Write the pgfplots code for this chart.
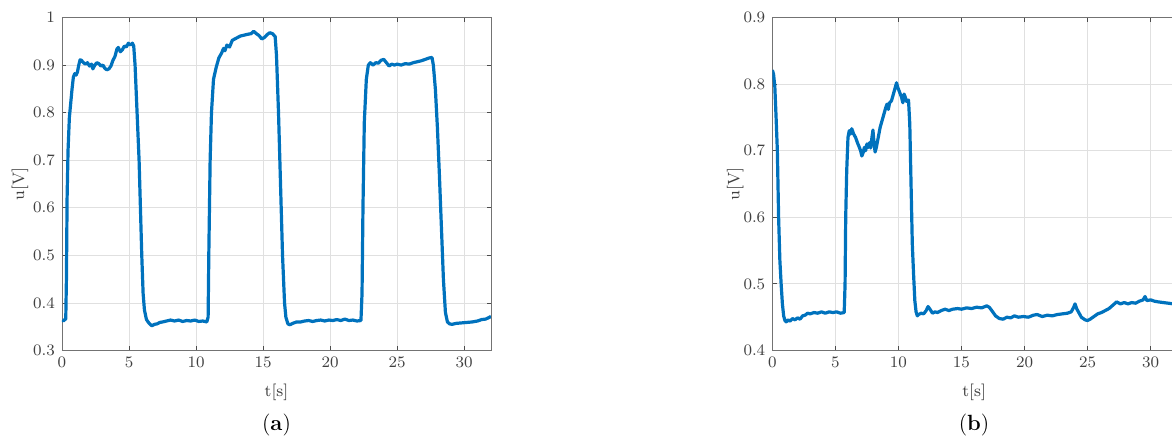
\documentclass[border=0pt]{standalone}
\usepackage{pgfplots}
\pgfplotsset{compat=1.18}
\definecolor{mblue}{RGB}{0,114,189}
\pgfplotsset{
  mstyle/.style={
    scale only axis,
    anchor=south west,
    height=166.5pt,
    xmin=0, xmax=32,
    xtick={0,5,10,15,20,25,30},
    tick align=inside,
    xtick pos=both, ytick pos=both,
    major tick length=2.2pt,
    grid=major,
    major grid style={draw=black!12, line width=0.4pt},
    axis line style={draw=black!55, line width=0.45pt},
    every tick/.style={draw=black!70, line width=0.4pt},
    tick label style={font=\fontsize{7.8}{9}\selectfont, text=black!75},
    label style={font=\fontsize{8.3}{10}\selectfont, text=black!75},
    xlabel={t[s]},
    ylabel={u[V]},
    xlabel style={at={(axis description cs:0.5,0)}, anchor=center, yshift=-20.75pt},
    yticklabel style={/pgf/number format/fixed},
    clip=true,
  }
}
\begin{document}
\begin{tikzpicture}
\useasboundingbox (0,0) rectangle (586pt,219pt);
\begin{axis}[mstyle,
  at={(31pt,43.75pt)}, width=214.5pt,
  ymin=0.3, ymax=1, ytick={0.3,0.4,0.5,0.6,0.7,0.8,0.9,1},
  ylabel style={at={(axis description cs:-0.098,0.5)}, anchor=center, rotate=0},
]
\addplot[mblue, line width=1.6pt, line join=round] coordinates {
(0,0.364) (0.1,0.362) (0.2,0.365) (0.28,0.366) (0.33,0.45) (0.38,0.62) (0.45,0.72)
(0.55,0.79) (0.65,0.82) (0.75,0.85) (0.85,0.875) (0.95,0.882) (1.05,0.879) (1.15,0.885)
(1.25,0.9) (1.35,0.911) (1.45,0.91) (1.6,0.905) (1.75,0.902) (1.9,0.905) (2.05,0.898)
(2.2,0.902) (2.3,0.892) (2.45,0.9) (2.6,0.905) (2.75,0.903) (2.9,0.898) (3.05,0.9)
(3.2,0.893) (3.35,0.89) (3.5,0.892) (3.65,0.898) (3.8,0.91) (3.95,0.918) (4.1,0.934)
(4.2,0.937) (4.35,0.928) (4.5,0.932) (4.65,0.94) (4.8,0.938) (4.95,0.946) (5.1,0.942)
(5.25,0.946) (5.35,0.94) (5.45,0.9) (5.6,0.8) (5.75,0.7) (5.85,0.6) (5.95,0.5)
(6.05,0.42) (6.15,0.385) (6.3,0.365) (6.5,0.357) (6.7,0.352) (6.9,0.355) (7.1,0.356)
(7.3,0.359) (7.5,0.36) (7.8,0.362) (8.1,0.364) (8.4,0.362) (8.7,0.364) (9.0,0.361)
(9.3,0.363) (9.6,0.362) (9.9,0.364) (10.2,0.361) (10.5,0.362) (10.8,0.36) (10.9,0.37)
(10.95,0.5) (11.05,0.7) (11.15,0.8) (11.3,0.87) (11.5,0.895) (11.7,0.915) (11.9,0.925)
(12.05,0.935) (12.15,0.93) (12.3,0.942) (12.5,0.938) (12.7,0.952) (12.9,0.955) (13.1,0.958)
(13.3,0.961) (13.6,0.963) (13.9,0.965) (14.1,0.966) (14.3,0.971) (14.5,0.966) (14.7,0.962)
(14.9,0.955) (15.1,0.958) (15.3,0.964) (15.5,0.968) (15.7,0.966) (15.9,0.96) (16.0,0.92)
(16.15,0.8) (16.3,0.65) (16.45,0.5) (16.6,0.4) (16.7,0.37) (16.85,0.356) (17.0,0.354)
(17.2,0.357) (17.5,0.36) (17.8,0.36) (18.1,0.362) (18.4,0.363) (18.7,0.361) (19.0,0.363)
(19.3,0.364) (19.6,0.362) (19.9,0.364) (20.2,0.363) (20.5,0.365) (20.8,0.363) (21.1,0.366)
(21.4,0.363) (21.7,0.364) (22.0,0.362) (22.3,0.363) (22.38,0.42) (22.45,0.6) (22.55,0.78)
(22.7,0.87) (22.85,0.9) (23.0,0.905) (23.2,0.9) (23.4,0.905) (23.6,0.904) (23.8,0.91)
(24.0,0.912) (24.2,0.905) (24.4,0.898) (24.6,0.902) (24.8,0.9) (25.0,0.902) (25.3,0.9)
(25.6,0.903) (25.9,0.902) (26.2,0.905) (26.5,0.907) (26.8,0.909) (27.1,0.912) (27.4,0.915)
(27.6,0.916) (27.7,0.9) (27.85,0.85) (28.0,0.77) (28.15,0.67) (28.3,0.56) (28.45,0.45)
(28.6,0.38) (28.75,0.36) (28.9,0.356) (29.1,0.355) (29.4,0.357) (29.8,0.358) (30.2,0.359)
(30.6,0.36) (31.0,0.362) (31.3,0.365) (31.6,0.366) (31.9,0.37) (32,0.372)
};
\end{axis}
\node[font=\fontsize{11}{13}\selectfont] at (138.25pt,6.5pt) {(\textbf{a})};
\begin{axis}[mstyle,
  at={(386.15pt,43.75pt)}, width=201.8pt,
  ymin=0.4, ymax=0.9, ytick={0.4,0.5,0.6,0.7,0.8,0.9},
  ylabel style={at={(axis description cs:-0.092,0.5)}, anchor=center, rotate=0},
]
\addplot[mblue, line width=1.6pt, line join=round] coordinates {
(0,0.821) (0.1,0.815) (0.2,0.796) (0.3,0.75) (0.4,0.7) (0.5,0.6) (0.6,0.535) (0.7,0.5)
(0.8,0.47) (0.9,0.452) (1.0,0.445) (1.1,0.443) (1.25,0.446) (1.4,0.444) (1.6,0.448)
(1.8,0.446) (2.0,0.449) (2.2,0.447) (2.4,0.452) (2.6,0.453) (2.8,0.456) (3.0,0.455)
(3.3,0.457) (3.6,0.456) (3.9,0.458) (4.2,0.456) (4.5,0.458) (4.8,0.457) (5.1,0.458)
(5.4,0.456) (5.7,0.457) (5.77,0.5) (5.82,0.6) (5.9,0.67) (6.0,0.72) (6.1,0.73)
(6.2,0.725) (6.3,0.733) (6.45,0.725) (6.6,0.72) (6.75,0.712) (6.9,0.705) (7.0,0.7)
(7.1,0.692) (7.2,0.697) (7.3,0.705) (7.4,0.7) (7.5,0.71) (7.6,0.705) (7.7,0.712)
(7.8,0.704) (7.9,0.72) (7.98,0.731) (8.05,0.715) (8.15,0.698) (8.25,0.705) (8.4,0.72)
(8.55,0.735) (8.7,0.745) (8.85,0.755) (9.0,0.765) (9.1,0.77) (9.2,0.762) (9.3,0.772)
(9.45,0.775) (9.6,0.785) (9.75,0.795) (9.85,0.802) (9.95,0.795) (10.05,0.79) (10.15,0.785)
(10.25,0.78) (10.35,0.772) (10.45,0.785) (10.55,0.78) (10.65,0.774) (10.8,0.776) (10.9,0.74)
(11.0,0.65) (11.1,0.56) (11.2,0.515) (11.3,0.475) (11.4,0.458) (11.5,0.452) (11.6,0.454)
(11.8,0.456) (12.0,0.455) (12.2,0.46) (12.35,0.466) (12.5,0.462) (12.7,0.456) (12.9,0.458)
(13.1,0.457) (13.4,0.46) (13.7,0.462) (14.0,0.46) (14.3,0.462) (14.7,0.463) (15.0,0.462)
(15.4,0.464) (15.8,0.463) (16.2,0.465) (16.6,0.464) (17.0,0.467) (17.2,0.465) (17.4,0.46)
(17.7,0.452) (18.0,0.448) (18.3,0.447) (18.6,0.45) (18.9,0.449) (19.2,0.452) (19.5,0.45)
(19.9,0.451) (20.3,0.45) (20.7,0.453) (21.0,0.454) (21.4,0.451) (21.8,0.453) (22.2,0.452)
(22.6,0.454) (23.0,0.455) (23.4,0.456) (23.7,0.458) (23.9,0.465) (24.0,0.47) (24.15,0.462)
(24.3,0.457) (24.5,0.45) (24.8,0.446) (25.0,0.445) (25.2,0.447) (25.5,0.451) (25.8,0.455)
(26.1,0.457) (26.4,0.46) (26.7,0.463) (27.0,0.468) (27.3,0.473) (27.6,0.47) (27.9,0.472)
(28.2,0.47) (28.5,0.472) (28.8,0.471) (29.1,0.474) (29.4,0.476) (29.55,0.481) (29.7,0.475)
(30.0,0.476) (30.3,0.474) (30.6,0.473) (31.0,0.472) (31.4,0.471) (31.8,0.47) (32,0.471)
};
\end{axis}
\node[font=\fontsize{11}{13}\selectfont] at (487pt,6.5pt) {(\textbf{b})};
\end{tikzpicture}
\end{document}
